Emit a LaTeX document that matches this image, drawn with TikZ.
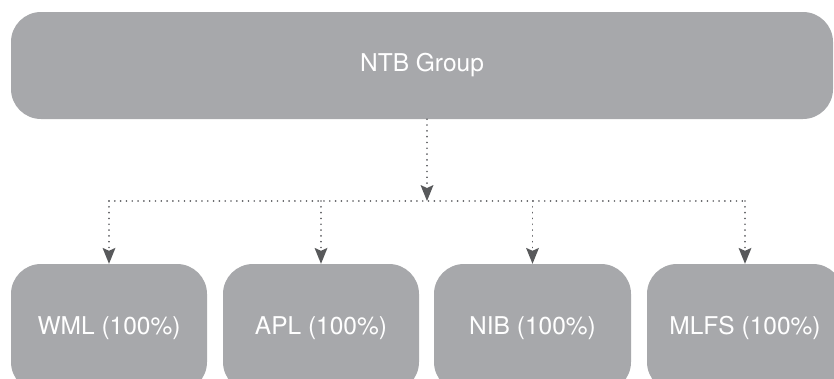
\documentclass[tikz,border=0pt]{standalone}
\usepackage{fontspec}
\setmainfont{TeX Gyre Heros}
\usetikzlibrary{arrows.meta}
\definecolor{boxgray}{HTML}{A7A8AB}
\definecolor{dotgray}{HTML}{5F6063}
\definecolor{arrgray}{HTML}{58595B}
\begin{document}
\begin{tikzpicture}[x=1pt,y=-1pt,
  orgbox/.style={fill=boxgray, draw=none, rounded corners=30pt, text=white,
    font=\fontsize{24.5}{28}\selectfont, inner sep=0pt},
  dotline/.style={draw=dotgray, line width=1.8pt, line cap=round,
    dash pattern=on 0.01pt off 5.8pt},
  arr/.style={dotline, -{Stealth[length=16pt,width=13pt,inset=3pt,color=arrgray,line width=0pt]}}]
\useasboundingbox (0,0) rectangle (834,378);
\clip (0,0) rectangle (834,378);
\node[orgbox, minimum width=822pt, minimum height=107pt] (top) at (422,65.5) {NTB Group};
\node[orgbox, minimum width=196pt, minimum height=128pt] (wml) at (109,328) {WML (100\%)};
\node[orgbox, minimum width=196pt, minimum height=128pt] (apl) at (321,328) {APL (100\%)};
\node[orgbox, minimum width=197pt, minimum height=128pt] (nib) at (532.5,328) {NIB (100\%)};
\node[orgbox, minimum width=196pt, minimum height=128pt] (mlfs) at (745,328) {MLFS (100\%)};
\coordinate (hub) at (427,201);
\draw[arr] (top.south -| hub) -- (hub);
\draw[dotline] (wml |- hub) -- (mlfs |- hub);
\draw[arr] (wml |- hub) -- (wml.north);
\draw[arr] (apl |- hub) -- (apl.north);
\draw[arr] (nib |- hub) -- (nib.north);
\draw[arr] (mlfs |- hub) -- (mlfs.north);
\end{tikzpicture}
\end{document}
